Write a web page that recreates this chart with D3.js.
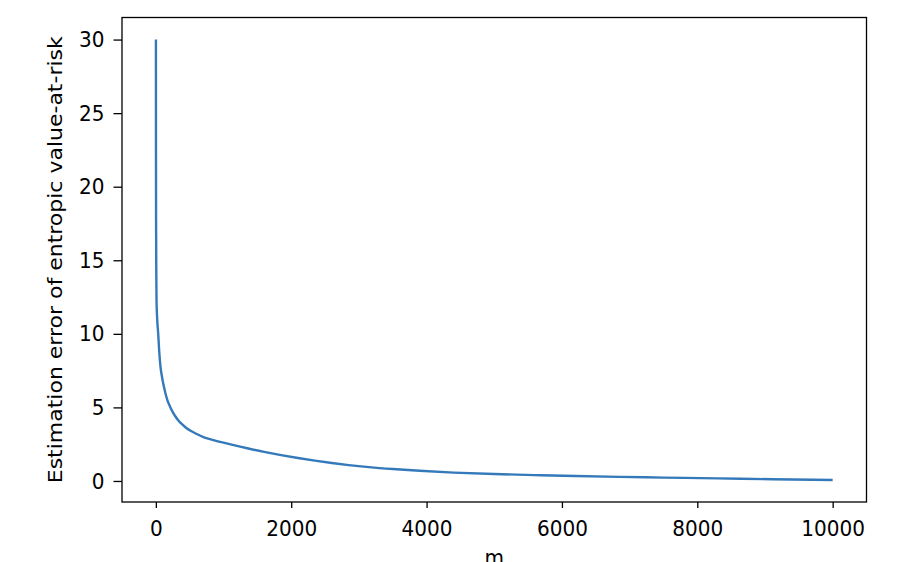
<!DOCTYPE html>
<html>
<head>
<meta charset="utf-8">
<script src="https://cdn.jsdelivr.net/npm/d3@7"></script>
<style>
    body { margin: 0; background: #fff; }
    svg { display: block; }
    text { font-family: "DejaVu Sans", sans-serif; fill: #000; }
</style>
</head>
<body>
<div id="wrapper"></div>
<script>
// values
const mValues = [1, 2, 4, 7, 10, 20, 35, 50, 70, 90, 110, 140, 170, 210, 250, 290, 330, 390, 450, 520, 600, 720, 850, 1000, 1150, 1350, 1600, 1850, 2100, 2350, 2600, 2850, 3150, 3500, 3900, 4400, 5000, 5600, 6200, 6850, 7500, 8300, 9100, 10000]
const errorValues = [30, 22, 17, 14, 12.3, 11.0, 10.0, 8.8, 7.7, 7.1, 6.6, 6.0, 5.5, 5.05, 4.68, 4.38, 4.13, 3.84, 3.6, 3.39, 3.2, 2.95, 2.78, 2.6, 2.43, 2.22, 1.98, 1.76, 1.56, 1.38, 1.22, 1.08, 0.94, 0.81, 0.69, 0.57, 0.47, 0.40, 0.34, 0.28, 0.23, 0.175, 0.12, 0.07]
const xTicks = [0, 2000, 4000, 6000, 8000, 10000]
const yTicks = [0, 5, 10, 15, 20, 25, 30]

const dataset = mValues.map(function(m, i) { return {m: m, err: errorValues[i]} })

const margin = {top: 17.5, right: 47.5, bottom: 60, left: 122},
    width = 914 - margin.left - margin.right,
    height = 562 - margin.top - margin.bottom;

// the picture is a bit taller than wide, squeeze text horizontally
const squeeze = 0.91

const svg = d3.select("#wrapper")
    .append("svg")
    .attr("width", 914)
    .attr("height", 562)
    .append("g")
    .attr("transform", `translate(${margin.left},${margin.top})`);

// matplotlib style 5% margins
const x = d3.scaleLinear()
    .domain([-500, 10500])
    .range([0, width])
const y = d3.scaleLinear()
    .domain([-1.43, 31.5])
    .range([height, 0])

const xAxis = svg.append("g")
    .attr("transform", `translate(0, ${height})`)
    .call(d3.axisBottom(x).tickValues(xTicks).tickFormat(d3.format("d")).tickSize(6).tickPadding(12).tickSizeOuter(0))
const yAxis = svg.append("g")
    .call(d3.axisLeft(y).tickValues(yTicks).tickSize(8.5).tickPadding(9).tickSizeOuter(0))

svg.selectAll(".tick text")
    .style("font-size", "22px")
    .attr("fill", "#000")
    .attr("transform", `scale(${squeeze},1)`)
yAxis.selectAll(".tick text").attr("x", -17.5 / squeeze)
svg.selectAll(".tick line").attr("stroke", "#000").attr("stroke-width", 1.3)
svg.selectAll(".domain").remove()

// frame
svg.append("rect")
    .attr("x", 0)
    .attr("y", 0)
    .attr("width", width)
    .attr("height", height)
    .attr("fill", "none")
    .attr("stroke", "#000")
    .attr("stroke-width", 1.3)

const line = d3.line()
    .x(function(d) { return x(d.m) })
    .y(function(d) { return y(d.err) })
    .curve(d3.curveMonotoneX)

svg.append("path")
    .datum(dataset)
    .attr("fill", "none")
    .attr("stroke", "#3479ba")
    .attr("stroke-width", 2.4)
    .attr("d", line)

// axis labels
svg.append("text")
    .attr("transform", `translate(${width / 2}, 547) scale(${squeeze},1)`)
    .attr("text-anchor", "middle")
    .style("font-size", "22px")
    .text("m")

svg.append("text")
    .attr("transform", `translate(${55 - margin.left}, ${height / 2}) rotate(-90) scale(1,${squeeze})`)
    .attr("text-anchor", "middle")
    .attr("dy", "0.35em")
    .style("font-size", "22px")
    .text("Estimation error of entropic value-at-risk")
</script>
</body>
</html>
